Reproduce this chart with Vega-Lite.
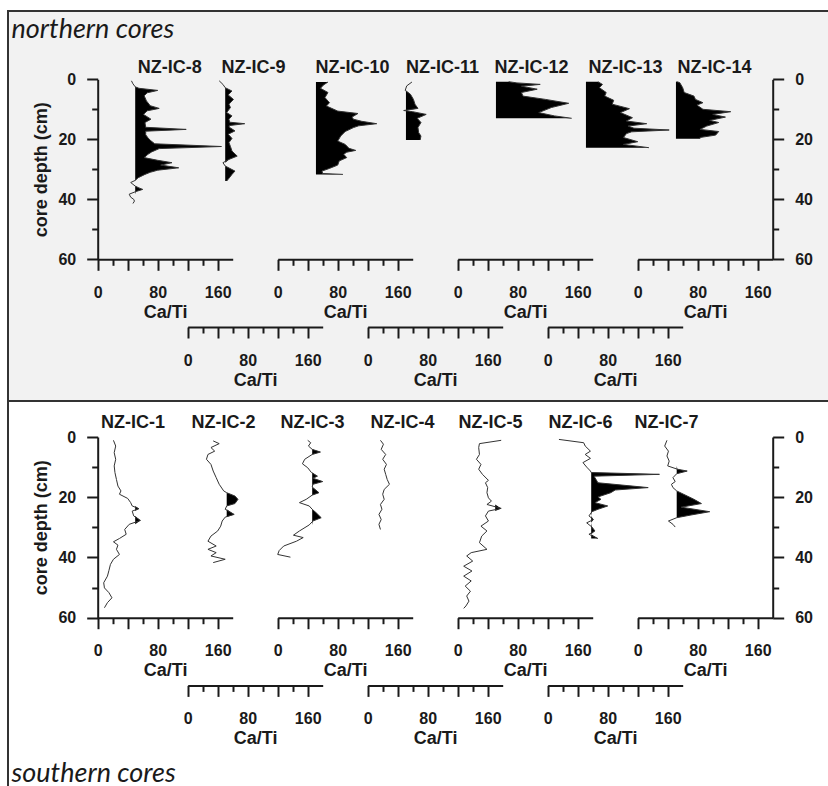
{
"$schema": "https://vega.github.io/schema/vega-lite/v6.json",
"padding": {"left": 7, "top": 10, "right": 0, "bottom": 0},
"background": "white",
"bounds": "flush",
"spacing": 0,
"config": {
  "view": {"stroke": null},
  "axis": {"grid": false, "domainColor": "#1a1a1a", "domainWidth": 2, "tickColor": "#1a1a1a", "tickWidth": 2, "labelFont": "Liberation Sans", "labelFontSize": 16, "labelFontWeight": "bold", "labelColor": "#1a1a1a", "titleFont": "Liberation Sans", "titleFontSize": 18, "titleFontWeight": "bold", "titleColor": "#1a1a1a", "labelOverlap": false, "labelFlush": false, "zindex": 1}
},
"data": {"values": [
{"core":"NZ-IC-8","depth":0.5,"cati":45,"fill":50},{"core":"NZ-IC-8","depth":1.5,"cati":47,"fill":50},{"core":"NZ-IC-8","depth":2.5,"cati":50,"fill":50},{"core":"NZ-IC-8","depth":3.0,"cati":55,"fill":55},{"core":"NZ-IC-8","depth":3.7,"cati":80,"fill":80},{"core":"NZ-IC-8","depth":4.5,"cati":66,"fill":66},{"core":"NZ-IC-8","depth":5.5,"cati":62,"fill":62},{"core":"NZ-IC-8","depth":7.2,"cati":65,"fill":65},{"core":"NZ-IC-8","depth":8.8,"cati":70,"fill":70},{"core":"NZ-IC-8","depth":9.7,"cati":82,"fill":82},{"core":"NZ-IC-8","depth":10.5,"cati":66,"fill":66},{"core":"NZ-IC-8","depth":11.7,"cati":61,"fill":61},{"core":"NZ-IC-8","depth":13.3,"cati":71,"fill":71},{"core":"NZ-IC-8","depth":14.4,"cati":63,"fill":63},{"core":"NZ-IC-8","depth":16.0,"cati":64,"fill":64},{"core":"NZ-IC-8","depth":16.7,"cati":118,"fill":118},{"core":"NZ-IC-8","depth":17.3,"cati":64,"fill":64},{"core":"NZ-IC-8","depth":18.5,"cati":64,"fill":64},{"core":"NZ-IC-8","depth":19.5,"cati":67,"fill":67},{"core":"NZ-IC-8","depth":20.3,"cati":70,"fill":70},{"core":"NZ-IC-8","depth":21.5,"cati":76,"fill":76},{"core":"NZ-IC-8","depth":22.4,"cati":165,"fill":165},{"core":"NZ-IC-8","depth":23.1,"cati":82,"fill":82},{"core":"NZ-IC-8","depth":24.2,"cati":72,"fill":72},{"core":"NZ-IC-8","depth":25.0,"cati":67,"fill":67},{"core":"NZ-IC-8","depth":26.1,"cati":62,"fill":62},{"core":"NZ-IC-8","depth":27.0,"cati":80,"fill":80},{"core":"NZ-IC-8","depth":27.8,"cati":99,"fill":99},{"core":"NZ-IC-8","depth":28.6,"cati":84,"fill":84},{"core":"NZ-IC-8","depth":29.5,"cati":108,"fill":108},{"core":"NZ-IC-8","depth":30.3,"cati":80,"fill":80},{"core":"NZ-IC-8","depth":31.0,"cati":70,"fill":70},{"core":"NZ-IC-8","depth":31.7,"cati":63,"fill":63},{"core":"NZ-IC-8","depth":32.8,"cati":54,"fill":54},{"core":"NZ-IC-8","depth":33.7,"cati":50,"fill":50},{"core":"NZ-IC-8","depth":34.4,"cati":44,"fill":50},{"core":"NZ-IC-8","depth":35.6,"cati":50,"fill":50},{"core":"NZ-IC-8","depth":36.2,"cati":55,"fill":55},{"core":"NZ-IC-8","depth":36.7,"cati":60,"fill":60},{"core":"NZ-IC-8","depth":37.4,"cati":51,"fill":51},{"core":"NZ-IC-8","depth":38.3,"cati":42,"fill":50},{"core":"NZ-IC-8","depth":39.3,"cati":44,"fill":50},{"core":"NZ-IC-8","depth":40.0,"cati":48,"fill":50},{"core":"NZ-IC-8","depth":40.6,"cati":49,"fill":50},{"core":"NZ-IC-8","depth":41.4,"cati":47,"fill":50},
{"core":"NZ-IC-9","depth":0.5,"cati":42,"fill":50},{"core":"NZ-IC-9","depth":1.7,"cati":47,"fill":50},{"core":"NZ-IC-9","depth":2.8,"cati":50,"fill":50},{"core":"NZ-IC-9","depth":3.9,"cati":59,"fill":59},{"core":"NZ-IC-9","depth":5.2,"cati":54,"fill":54},{"core":"NZ-IC-9","depth":6.7,"cati":61,"fill":61},{"core":"NZ-IC-9","depth":8.3,"cati":55,"fill":55},{"core":"NZ-IC-9","depth":9.4,"cati":57,"fill":57},{"core":"NZ-IC-9","depth":11.1,"cati":52,"fill":52},{"core":"NZ-IC-9","depth":12.2,"cati":59,"fill":59},{"core":"NZ-IC-9","depth":13.3,"cati":55,"fill":55},{"core":"NZ-IC-9","depth":14.3,"cati":56,"fill":56},{"core":"NZ-IC-9","depth":14.8,"cati":76,"fill":76},{"core":"NZ-IC-9","depth":15.4,"cati":56,"fill":56},{"core":"NZ-IC-9","depth":15.9,"cati":55,"fill":55},{"core":"NZ-IC-9","depth":17.2,"cati":63,"fill":63},{"core":"NZ-IC-9","depth":18.3,"cati":54,"fill":54},{"core":"NZ-IC-9","depth":19.7,"cati":59,"fill":59},{"core":"NZ-IC-9","depth":21.1,"cati":55,"fill":55},{"core":"NZ-IC-9","depth":22.4,"cati":57,"fill":57},{"core":"NZ-IC-9","depth":23.9,"cati":59,"fill":59},{"core":"NZ-IC-9","depth":25.6,"cati":66,"fill":66},{"core":"NZ-IC-9","depth":26.7,"cati":55,"fill":55},{"core":"NZ-IC-9","depth":27.8,"cati":47,"fill":50},{"core":"NZ-IC-9","depth":28.9,"cati":50,"fill":50},{"core":"NZ-IC-9","depth":30.6,"cati":63,"fill":63},{"core":"NZ-IC-9","depth":31.7,"cati":59,"fill":59},{"core":"NZ-IC-9","depth":33.0,"cati":55,"fill":55},{"core":"NZ-IC-9","depth":33.9,"cati":52,"fill":52},
{"core":"NZ-IC-10","depth":0.9,"cati":67,"fill":67},{"core":"NZ-IC-10","depth":1.9,"cati":61,"fill":61},{"core":"NZ-IC-10","depth":3.0,"cati":57,"fill":57},{"core":"NZ-IC-10","depth":4.4,"cati":67,"fill":67},{"core":"NZ-IC-10","depth":6.1,"cati":63,"fill":63},{"core":"NZ-IC-10","depth":7.8,"cati":69,"fill":69},{"core":"NZ-IC-10","depth":8.9,"cati":65,"fill":65},{"core":"NZ-IC-10","depth":10.6,"cati":80,"fill":80},{"core":"NZ-IC-10","depth":11.4,"cati":107,"fill":107},{"core":"NZ-IC-10","depth":12.6,"cati":99,"fill":99},{"core":"NZ-IC-10","depth":13.3,"cati":101,"fill":101},{"core":"NZ-IC-10","depth":14.0,"cati":112,"fill":112},{"core":"NZ-IC-10","depth":14.8,"cati":132,"fill":132},{"core":"NZ-IC-10","depth":15.5,"cati":108,"fill":108},{"core":"NZ-IC-10","depth":16.1,"cati":101,"fill":101},{"core":"NZ-IC-10","depth":17.4,"cati":90,"fill":90},{"core":"NZ-IC-10","depth":18.9,"cati":84,"fill":84},{"core":"NZ-IC-10","depth":20.6,"cati":80,"fill":80},{"core":"NZ-IC-10","depth":21.7,"cati":90,"fill":90},{"core":"NZ-IC-10","depth":23.0,"cati":95,"fill":95},{"core":"NZ-IC-10","depth":23.7,"cati":104,"fill":104},{"core":"NZ-IC-10","depth":24.3,"cati":92,"fill":92},{"core":"NZ-IC-10","depth":25.0,"cati":88,"fill":88},{"core":"NZ-IC-10","depth":26.1,"cati":92,"fill":92},{"core":"NZ-IC-10","depth":27.2,"cati":82,"fill":82},{"core":"NZ-IC-10","depth":28.6,"cati":80,"fill":80},{"core":"NZ-IC-10","depth":29.7,"cati":69,"fill":69},{"core":"NZ-IC-10","depth":30.6,"cati":59,"fill":59},{"core":"NZ-IC-10","depth":31.4,"cati":60,"fill":60},{"core":"NZ-IC-10","depth":31.7,"cati":87,"fill":87},
{"core":"NZ-IC-11","depth":0.9,"cati":59,"fill":51},{"core":"NZ-IC-11","depth":2.2,"cati":52,"fill":51},{"core":"NZ-IC-11","depth":3.7,"cati":50,"fill":51},{"core":"NZ-IC-11","depth":5.0,"cati":57,"fill":57},{"core":"NZ-IC-11","depth":6.7,"cati":61,"fill":61},{"core":"NZ-IC-11","depth":8.3,"cati":63,"fill":63},{"core":"NZ-IC-11","depth":9.7,"cati":67,"fill":67},{"core":"NZ-IC-11","depth":10.4,"cati":48,"fill":51},{"core":"NZ-IC-11","depth":10.8,"cati":60,"fill":60},{"core":"NZ-IC-11","depth":11.7,"cati":78,"fill":78},{"core":"NZ-IC-11","depth":13.0,"cati":66,"fill":66},{"core":"NZ-IC-11","depth":14.4,"cati":71,"fill":71},{"core":"NZ-IC-11","depth":16.1,"cati":67,"fill":67},{"core":"NZ-IC-11","depth":17.8,"cati":68,"fill":68},{"core":"NZ-IC-11","depth":18.9,"cati":71,"fill":71},{"core":"NZ-IC-11","depth":20.2,"cati":70,"fill":70},
{"core":"NZ-IC-12","depth":0.8,"cati":68,"fill":68},{"core":"NZ-IC-12","depth":1.2,"cati":79,"fill":79},{"core":"NZ-IC-12","depth":1.7,"cati":110,"fill":110},{"core":"NZ-IC-12","depth":2.3,"cati":85,"fill":85},{"core":"NZ-IC-12","depth":3.3,"cati":106,"fill":106},{"core":"NZ-IC-12","depth":4.4,"cati":85,"fill":85},{"core":"NZ-IC-12","depth":5.6,"cati":87,"fill":87},{"core":"NZ-IC-12","depth":6.7,"cati":117,"fill":117},{"core":"NZ-IC-12","depth":8.0,"cati":148,"fill":148},{"core":"NZ-IC-12","depth":9.4,"cati":125,"fill":125},{"core":"NZ-IC-12","depth":11.1,"cati":108,"fill":108},{"core":"NZ-IC-12","depth":12.2,"cati":129,"fill":129},{"core":"NZ-IC-12","depth":13.0,"cati":152,"fill":152},
{"core":"NZ-IC-13","depth":0.8,"cati":67,"fill":67},{"core":"NZ-IC-13","depth":1.7,"cati":73,"fill":73},{"core":"NZ-IC-13","depth":2.8,"cati":69,"fill":69},{"core":"NZ-IC-13","depth":4.4,"cati":78,"fill":78},{"core":"NZ-IC-13","depth":5.6,"cati":76,"fill":76},{"core":"NZ-IC-13","depth":7.0,"cati":88,"fill":88},{"core":"NZ-IC-13","depth":8.3,"cati":86,"fill":86},{"core":"NZ-IC-13","depth":9.8,"cati":109,"fill":109},{"core":"NZ-IC-13","depth":11.1,"cati":97,"fill":97},{"core":"NZ-IC-13","depth":12.8,"cati":113,"fill":113},{"core":"NZ-IC-13","depth":13.9,"cati":105,"fill":105},{"core":"NZ-IC-13","depth":14.8,"cati":132,"fill":132},{"core":"NZ-IC-13","depth":15.6,"cati":107,"fill":107},{"core":"NZ-IC-13","depth":16.3,"cati":115,"fill":115},{"core":"NZ-IC-13","depth":16.9,"cati":162,"fill":162},{"core":"NZ-IC-13","depth":17.5,"cati":112,"fill":112},{"core":"NZ-IC-13","depth":18.1,"cati":105,"fill":105},{"core":"NZ-IC-13","depth":19.4,"cati":101,"fill":101},{"core":"NZ-IC-13","depth":20.8,"cati":120,"fill":120},{"core":"NZ-IC-13","depth":21.7,"cati":101,"fill":101},{"core":"NZ-IC-13","depth":22.8,"cati":135,"fill":135},
{"core":"NZ-IC-14","depth":0.8,"cati":52,"fill":52},{"core":"NZ-IC-14","depth":1.1,"cati":56,"fill":56},{"core":"NZ-IC-14","depth":2.8,"cati":60,"fill":60},{"core":"NZ-IC-14","depth":4.4,"cati":62,"fill":62},{"core":"NZ-IC-14","depth":5.6,"cati":75,"fill":75},{"core":"NZ-IC-14","depth":6.7,"cati":77,"fill":77},{"core":"NZ-IC-14","depth":7.8,"cati":87,"fill":87},{"core":"NZ-IC-14","depth":8.6,"cati":79,"fill":79},{"core":"NZ-IC-14","depth":10.0,"cati":87,"fill":87},{"core":"NZ-IC-14","depth":10.8,"cati":124,"fill":124},{"core":"NZ-IC-14","depth":11.7,"cati":100,"fill":100},{"core":"NZ-IC-14","depth":12.6,"cati":117,"fill":117},{"core":"NZ-IC-14","depth":13.7,"cati":96,"fill":96},{"core":"NZ-IC-14","depth":14.4,"cati":108,"fill":108},{"core":"NZ-IC-14","depth":15.6,"cati":92,"fill":92},{"core":"NZ-IC-14","depth":16.7,"cati":83,"fill":83},{"core":"NZ-IC-14","depth":17.4,"cati":108,"fill":108},{"core":"NZ-IC-14","depth":18.6,"cati":104,"fill":104},{"core":"NZ-IC-14","depth":19.4,"cati":83,"fill":83},{"core":"NZ-IC-14","depth":19.8,"cati":83,"fill":83},
{"core":"NZ-IC-1","depth":1.1,"cati":21,"fill":50},{"core":"NZ-IC-1","depth":3.0,"cati":24,"fill":50},{"core":"NZ-IC-1","depth":5.2,"cati":22,"fill":50},{"core":"NZ-IC-1","depth":7.4,"cati":24,"fill":50},{"core":"NZ-IC-1","depth":9.6,"cati":22,"fill":50},{"core":"NZ-IC-1","depth":11.8,"cati":23,"fill":50},{"core":"NZ-IC-1","depth":14.1,"cati":25,"fill":50},{"core":"NZ-IC-1","depth":16.3,"cati":27,"fill":50},{"core":"NZ-IC-1","depth":17.9,"cati":31,"fill":50},{"core":"NZ-IC-1","depth":19.0,"cati":29,"fill":50},{"core":"NZ-IC-1","depth":20.4,"cati":40,"fill":50},{"core":"NZ-IC-1","depth":21.8,"cati":44,"fill":50},{"core":"NZ-IC-1","depth":22.9,"cati":46,"fill":50},{"core":"NZ-IC-1","depth":23.8,"cati":55,"fill":55},{"core":"NZ-IC-1","depth":24.6,"cati":46,"fill":50},{"core":"NZ-IC-1","depth":26.2,"cati":48,"fill":50},{"core":"NZ-IC-1","depth":27.7,"cati":57,"fill":57},{"core":"NZ-IC-1","depth":29.0,"cati":42,"fill":50},{"core":"NZ-IC-1","depth":30.7,"cati":36,"fill":50},{"core":"NZ-IC-1","depth":32.3,"cati":38,"fill":50},{"core":"NZ-IC-1","depth":33.7,"cati":29,"fill":50},{"core":"NZ-IC-1","depth":34.8,"cati":21,"fill":50},{"core":"NZ-IC-1","depth":35.9,"cati":27,"fill":50},{"core":"NZ-IC-1","depth":37.3,"cati":25,"fill":50},{"core":"NZ-IC-1","depth":39.0,"cati":29,"fill":50},{"core":"NZ-IC-1","depth":40.6,"cati":21,"fill":50},{"core":"NZ-IC-1","depth":42.3,"cati":17,"fill":50},{"core":"NZ-IC-1","depth":44.3,"cati":15,"fill":50},{"core":"NZ-IC-1","depth":46.2,"cati":13,"fill":50},{"core":"NZ-IC-1","depth":48.4,"cati":8,"fill":50},{"core":"NZ-IC-1","depth":50.1,"cati":9,"fill":50},{"core":"NZ-IC-1","depth":51.7,"cati":15,"fill":50},{"core":"NZ-IC-1","depth":53.4,"cati":19,"fill":50},{"core":"NZ-IC-1","depth":55.0,"cati":13,"fill":50},{"core":"NZ-IC-1","depth":56.7,"cati":9,"fill":50},
{"core":"NZ-IC-2","depth":1.3,"cati":34,"fill":52},{"core":"NZ-IC-2","depth":2.2,"cati":42,"fill":52},{"core":"NZ-IC-2","depth":3.5,"cati":31,"fill":52},{"core":"NZ-IC-2","depth":4.7,"cati":36,"fill":52},{"core":"NZ-IC-2","depth":5.8,"cati":27,"fill":52},{"core":"NZ-IC-2","depth":7.4,"cati":25,"fill":52},{"core":"NZ-IC-2","depth":9.1,"cati":31,"fill":52},{"core":"NZ-IC-2","depth":11.3,"cati":34,"fill":52},{"core":"NZ-IC-2","depth":13.5,"cati":38,"fill":52},{"core":"NZ-IC-2","depth":15.7,"cati":42,"fill":52},{"core":"NZ-IC-2","depth":17.9,"cati":48,"fill":52},{"core":"NZ-IC-2","depth":18.5,"cati":52,"fill":52},{"core":"NZ-IC-2","depth":19.6,"cati":63,"fill":63},{"core":"NZ-IC-2","depth":20.7,"cati":67,"fill":67},{"core":"NZ-IC-2","depth":22.1,"cati":63,"fill":63},{"core":"NZ-IC-2","depth":22.9,"cati":52,"fill":52},{"core":"NZ-IC-2","depth":24.0,"cati":50,"fill":52},{"core":"NZ-IC-2","depth":25.7,"cati":62,"fill":62},{"core":"NZ-IC-2","depth":26.6,"cati":50,"fill":52},{"core":"NZ-IC-2","depth":27.9,"cati":46,"fill":52},{"core":"NZ-IC-2","depth":29.6,"cati":44,"fill":52},{"core":"NZ-IC-2","depth":31.2,"cati":40,"fill":52},{"core":"NZ-IC-2","depth":32.9,"cati":31,"fill":52},{"core":"NZ-IC-2","depth":34.6,"cati":27,"fill":52},{"core":"NZ-IC-2","depth":36.2,"cati":38,"fill":52},{"core":"NZ-IC-2","depth":37.3,"cati":27,"fill":52},{"core":"NZ-IC-2","depth":38.4,"cati":38,"fill":52},{"core":"NZ-IC-2","depth":39.5,"cati":31,"fill":52},{"core":"NZ-IC-2","depth":40.6,"cati":50,"fill":52},{"core":"NZ-IC-2","depth":41.7,"cati":34,"fill":52},
{"core":"NZ-IC-3","depth":1.1,"cati":40,"fill":46},{"core":"NZ-IC-3","depth":1.9,"cati":44,"fill":46},{"core":"NZ-IC-3","depth":3.0,"cati":41,"fill":46},{"core":"NZ-IC-3","depth":4.1,"cati":46,"fill":46},{"core":"NZ-IC-3","depth":5.0,"cati":57,"fill":57},{"core":"NZ-IC-3","depth":5.8,"cati":46,"fill":46},{"core":"NZ-IC-3","depth":7.4,"cati":36,"fill":46},{"core":"NZ-IC-3","depth":8.9,"cati":33,"fill":46},{"core":"NZ-IC-3","depth":10.2,"cati":40,"fill":46},{"core":"NZ-IC-3","depth":11.8,"cati":45,"fill":46},{"core":"NZ-IC-3","depth":13.0,"cati":53,"fill":53},{"core":"NZ-IC-3","depth":13.7,"cati":47,"fill":47},{"core":"NZ-IC-3","depth":14.8,"cati":60,"fill":60},{"core":"NZ-IC-3","depth":15.7,"cati":47,"fill":47},{"core":"NZ-IC-3","depth":16.6,"cati":46,"fill":46},{"core":"NZ-IC-3","depth":18.5,"cati":55,"fill":55},{"core":"NZ-IC-3","depth":19.3,"cati":46,"fill":46},{"core":"NZ-IC-3","depth":20.7,"cati":38,"fill":46},{"core":"NZ-IC-3","depth":21.8,"cati":29,"fill":46},{"core":"NZ-IC-3","depth":22.9,"cati":42,"fill":46},{"core":"NZ-IC-3","depth":24.0,"cati":46,"fill":46},{"core":"NZ-IC-3","depth":25.1,"cati":51,"fill":51},{"core":"NZ-IC-3","depth":26.8,"cati":58,"fill":58},{"core":"NZ-IC-3","depth":27.9,"cati":47,"fill":47},{"core":"NZ-IC-3","depth":29.2,"cati":42,"fill":46},{"core":"NZ-IC-3","depth":31.2,"cati":29,"fill":46},{"core":"NZ-IC-3","depth":32.6,"cati":21,"fill":46},{"core":"NZ-IC-3","depth":33.4,"cati":34,"fill":46},{"core":"NZ-IC-3","depth":34.6,"cati":25,"fill":46},{"core":"NZ-IC-3","depth":36.2,"cati":8,"fill":46},{"core":"NZ-IC-3","depth":37.7,"cati":2,"fill":46},{"core":"NZ-IC-3","depth":39.0,"cati":0,"fill":46},{"core":"NZ-IC-3","depth":39.9,"cati":17,"fill":46},
{"core":"NZ-IC-4","depth":1.1,"cati":17,"fill":30},{"core":"NZ-IC-4","depth":2.4,"cati":21,"fill":30},{"core":"NZ-IC-4","depth":4.1,"cati":18,"fill":30},{"core":"NZ-IC-4","depth":5.8,"cati":24,"fill":30},{"core":"NZ-IC-4","depth":7.4,"cati":20,"fill":30},{"core":"NZ-IC-4","depth":9.1,"cati":25,"fill":30},{"core":"NZ-IC-4","depth":10.7,"cati":22,"fill":30},{"core":"NZ-IC-4","depth":12.4,"cati":24,"fill":30},{"core":"NZ-IC-4","depth":14.1,"cati":26,"fill":30},{"core":"NZ-IC-4","depth":15.7,"cati":29,"fill":30},{"core":"NZ-IC-4","depth":17.4,"cati":22,"fill":30},{"core":"NZ-IC-4","depth":19.0,"cati":20,"fill":30},{"core":"NZ-IC-4","depth":20.7,"cati":22,"fill":30},{"core":"NZ-IC-4","depth":22.4,"cati":17,"fill":30},{"core":"NZ-IC-4","depth":24.0,"cati":19,"fill":30},{"core":"NZ-IC-4","depth":25.7,"cati":15,"fill":30},{"core":"NZ-IC-4","depth":27.4,"cati":18,"fill":30},{"core":"NZ-IC-4","depth":29.0,"cati":15,"fill":30},{"core":"NZ-IC-4","depth":30.7,"cati":17,"fill":30},
{"core":"NZ-IC-5","depth":1.1,"cati":58,"fill":50},{"core":"NZ-IC-5","depth":2.2,"cati":29,"fill":50},{"core":"NZ-IC-5","depth":3.5,"cati":28,"fill":50},{"core":"NZ-IC-5","depth":5.8,"cati":29,"fill":50},{"core":"NZ-IC-5","depth":7.4,"cati":25,"fill":50},{"core":"NZ-IC-5","depth":9.1,"cati":31,"fill":50},{"core":"NZ-IC-5","depth":10.7,"cati":28,"fill":50},{"core":"NZ-IC-5","depth":12.4,"cati":33,"fill":50},{"core":"NZ-IC-5","depth":14.4,"cati":41,"fill":50},{"core":"NZ-IC-5","depth":15.2,"cati":37,"fill":50},{"core":"NZ-IC-5","depth":16.8,"cati":40,"fill":50},{"core":"NZ-IC-5","depth":18.5,"cati":39,"fill":50},{"core":"NZ-IC-5","depth":20.2,"cati":41,"fill":50},{"core":"NZ-IC-5","depth":21.3,"cati":45,"fill":50},{"core":"NZ-IC-5","depth":22.4,"cati":39,"fill":50},{"core":"NZ-IC-5","depth":23.7,"cati":58,"fill":58},{"core":"NZ-IC-5","depth":24.6,"cati":41,"fill":50},{"core":"NZ-IC-5","depth":26.2,"cati":37,"fill":50},{"core":"NZ-IC-5","depth":27.9,"cati":41,"fill":50},{"core":"NZ-IC-5","depth":29.6,"cati":31,"fill":50},{"core":"NZ-IC-5","depth":31.2,"cati":39,"fill":50},{"core":"NZ-IC-5","depth":32.9,"cati":32,"fill":50},{"core":"NZ-IC-5","depth":35.1,"cati":29,"fill":50},{"core":"NZ-IC-5","depth":37.3,"cati":39,"fill":50},{"core":"NZ-IC-5","depth":38.4,"cati":18,"fill":50},{"core":"NZ-IC-5","depth":39.5,"cati":12,"fill":50},{"core":"NZ-IC-5","depth":41.2,"cati":20,"fill":50},{"core":"NZ-IC-5","depth":42.9,"cati":8,"fill":50},{"core":"NZ-IC-5","depth":44.5,"cati":19,"fill":50},{"core":"NZ-IC-5","depth":46.2,"cati":8,"fill":50},{"core":"NZ-IC-5","depth":47.8,"cati":18,"fill":50},{"core":"NZ-IC-5","depth":49.5,"cati":10,"fill":50},{"core":"NZ-IC-5","depth":51.2,"cati":17,"fill":50},{"core":"NZ-IC-5","depth":52.8,"cati":12,"fill":50},{"core":"NZ-IC-5","depth":54.5,"cati":15,"fill":50},{"core":"NZ-IC-5","depth":56.1,"cati":11,"fill":50},{"core":"NZ-IC-5","depth":56.9,"cati":8,"fill":50},
{"core":"NZ-IC-6","depth":0.8,"cati":15,"fill":58},{"core":"NZ-IC-6","depth":1.9,"cati":48,"fill":58},{"core":"NZ-IC-6","depth":3.0,"cati":50,"fill":58},{"core":"NZ-IC-6","depth":4.7,"cati":57,"fill":58},{"core":"NZ-IC-6","depth":5.8,"cati":50,"fill":58},{"core":"NZ-IC-6","depth":7.1,"cati":57,"fill":58},{"core":"NZ-IC-6","depth":8.5,"cati":47,"fill":58},{"core":"NZ-IC-6","depth":10.0,"cati":52,"fill":58},{"core":"NZ-IC-6","depth":11.3,"cati":57,"fill":58},{"core":"NZ-IC-6","depth":11.8,"cati":58,"fill":58},{"core":"NZ-IC-6","depth":12.4,"cati":149,"fill":149},{"core":"NZ-IC-6","depth":13.0,"cati":62,"fill":62},{"core":"NZ-IC-6","depth":13.5,"cati":63,"fill":63},{"core":"NZ-IC-6","depth":15.2,"cati":67,"fill":67},{"core":"NZ-IC-6","depth":16.8,"cati":134,"fill":134},{"core":"NZ-IC-6","depth":17.6,"cati":90,"fill":90},{"core":"NZ-IC-6","depth":18.5,"cati":84,"fill":84},{"core":"NZ-IC-6","depth":19.9,"cati":67,"fill":67},{"core":"NZ-IC-6","depth":20.7,"cati":71,"fill":71},{"core":"NZ-IC-6","depth":21.8,"cati":63,"fill":63},{"core":"NZ-IC-6","depth":22.9,"cati":80,"fill":80},{"core":"NZ-IC-6","depth":24.0,"cati":67,"fill":67},{"core":"NZ-IC-6","depth":24.8,"cati":59,"fill":59},{"core":"NZ-IC-6","depth":26.2,"cati":55,"fill":58},{"core":"NZ-IC-6","depth":27.4,"cati":61,"fill":61},{"core":"NZ-IC-6","depth":28.5,"cati":52,"fill":58},{"core":"NZ-IC-6","depth":29.9,"cati":59,"fill":59},{"core":"NZ-IC-6","depth":31.2,"cati":63,"fill":63},{"core":"NZ-IC-6","depth":32.3,"cati":55,"fill":58},{"core":"NZ-IC-6","depth":33.7,"cati":67,"fill":67},
{"core":"NZ-IC-7","depth":1.1,"cati":39,"fill":52},{"core":"NZ-IC-7","depth":3.0,"cati":36,"fill":52},{"core":"NZ-IC-7","depth":4.7,"cati":41,"fill":52},{"core":"NZ-IC-7","depth":6.3,"cati":39,"fill":52},{"core":"NZ-IC-7","depth":8.0,"cati":42,"fill":52},{"core":"NZ-IC-7","depth":9.6,"cati":40,"fill":52},{"core":"NZ-IC-7","depth":10.7,"cati":53,"fill":53},{"core":"NZ-IC-7","depth":11.3,"cati":66,"fill":66},{"core":"NZ-IC-7","depth":12.2,"cati":52,"fill":52},{"core":"NZ-IC-7","depth":13.5,"cati":47,"fill":52},{"core":"NZ-IC-7","depth":14.8,"cati":50,"fill":52},{"core":"NZ-IC-7","depth":15.7,"cati":45,"fill":52},{"core":"NZ-IC-7","depth":16.8,"cati":47,"fill":52},{"core":"NZ-IC-7","depth":17.9,"cati":52,"fill":52},{"core":"NZ-IC-7","depth":19.6,"cati":66,"fill":66},{"core":"NZ-IC-7","depth":20.7,"cati":75,"fill":75},{"core":"NZ-IC-7","depth":22.1,"cati":85,"fill":85},{"core":"NZ-IC-7","depth":23.3,"cati":58,"fill":58},{"core":"NZ-IC-7","depth":24.8,"cati":96,"fill":96},{"core":"NZ-IC-7","depth":25.9,"cati":71,"fill":71},{"core":"NZ-IC-7","depth":26.8,"cati":52,"fill":52},{"core":"NZ-IC-7","depth":27.9,"cati":41,"fill":52},{"core":"NZ-IC-7","depth":29.0,"cati":47,"fill":52},{"core":"NZ-IC-7","depth":29.9,"cati":50,"fill":52}
]},
"vconcat": [
{
  "width": 821, "height": 390,
  "view": {"fill": "#f2f2f2", "stroke": "#333333", "strokeWidth": 2},
  "resolve": {"scale": {"x": "independent", "y": "independent"}, "axis": {"x": "independent", "y": "independent"}},
  "layer": [
    {"transform": [{"filter": "datum.core === 'NZ-IC-8'"}], "resolve": {"axis": {"x": "independent", "y": "independent"}}, "layer": [
      {"mark": {"type": "area", "orient": "horizontal", "color": "#000000"}, "encoding": {
        "x": {"field": "fill", "type": "quantitative", "scale": {"domain": [0, 170], "range": [89.7, 224.7]}, "axis": {"orient": "bottom", "offset": -141.7, "values": [0,20,40,60,80,100,120,140,160], "labelExpr": "datum.value % 80 === 0 ? datum.label : ''", "tickSize": {"condition": {"test": "datum.value % 40 === 0", "value": 11}, "value": 6}, "labelPadding": 14, "title": "Ca/Ti", "titlePadding": 3}},
        "x2": {"datum": 50},
        "y": {"field": "depth", "type": "quantitative", "scale": {"domain": [0, 60], "range": [68.3, 248.3]}, "axis": {"orient": "left", "offset": -89.7, "values": [0,10,20,30,40,50,60], "labelExpr": "datum.value % 20 === 0 ? datum.label : ''", "tickSize": {"condition": {"test": "datum.value % 20 === 0", "value": 11}, "value": 6}, "labelPadding": 11, "title": "core depth (cm)", "titlePadding": 7}}}},
      {"mark": {"type": "line", "orient": "horizontal", "color": "#333333", "strokeWidth": 1}, "encoding": {
        "x": {"field": "cati", "type": "quantitative", "axis": {"orient": "top", "labels": false, "ticks": false, "domain": false, "title": "NZ-IC-8", "titleX": 161.3, "titleY": 56, "titleAlign": "center", "titleBaseline": "middle", "titleAngle": 0}},
        "y": {"field": "depth", "type": "quantitative", "axis": null},
        "order": {"field": "depth", "type": "quantitative"}}}
    ]},
    {"transform": [{"filter": "datum.core === 'NZ-IC-9'"}], "resolve": {"axis": {"x": "independent", "y": "independent"}}, "layer": [
      {"mark": {"type": "area", "orient": "horizontal", "color": "#000000"}, "encoding": {
        "x": {"field": "fill", "type": "quantitative", "scale": {"domain": [0, 170], "range": [179.7, 314.7]}, "axis": {"orient": "bottom", "offset": -74, "values": [0,20,40,60,80,100,120,140,160], "labelExpr": "datum.value % 80 === 0 ? datum.label : ''", "tickSize": {"condition": {"test": "datum.value % 40 === 0", "value": 11}, "value": 6}, "labelPadding": 14, "title": "Ca/Ti", "titlePadding": 3}},
        "x2": {"datum": 50},
        "y": {"field": "depth", "type": "quantitative", "scale": {"domain": [0, 60], "range": [68.3, 248.3]}, "axis": {"orient": "left", "offset": 0, "domain": false, "ticks": false, "labels": false, "title": "northern cores", "titleX": 3, "titleY": 26, "titleAngle": 0, "titleAlign": "left", "titleBaseline": "alphabetic", "titleFont": "Lato", "titleFontStyle": "italic", "titleFontWeight": "normal", "titleFontSize": 27}}}},
      {"mark": {"type": "line", "orient": "horizontal", "color": "#333333", "strokeWidth": 1}, "encoding": {
        "x": {"field": "cati", "type": "quantitative", "axis": {"orient": "top", "labels": false, "ticks": false, "domain": false, "title": "NZ-IC-9", "titleX": 245, "titleY": 56, "titleAlign": "center", "titleBaseline": "middle", "titleAngle": 0}},
        "y": {"field": "depth", "type": "quantitative", "axis": null},
        "order": {"field": "depth", "type": "quantitative"}}}
    ]},
    {"transform": [{"filter": "datum.core === 'NZ-IC-10'"}], "resolve": {"axis": {"x": "independent", "y": "independent"}}, "layer": [
      {"mark": {"type": "area", "orient": "horizontal", "color": "#000000"}, "encoding": {
        "x": {"field": "fill", "type": "quantitative", "scale": {"domain": [0, 170], "range": [269.7, 404.7]}, "axis": {"orient": "bottom", "offset": -141.7, "values": [0,20,40,60,80,100,120,140,160], "labelExpr": "datum.value % 80 === 0 ? datum.label : ''", "tickSize": {"condition": {"test": "datum.value % 40 === 0", "value": 11}, "value": 6}, "labelPadding": 14, "title": "Ca/Ti", "titlePadding": 3}},
        "x2": {"datum": 51},
        "y": {"field": "depth", "type": "quantitative", "scale": {"domain": [0, 60], "range": [68.3, 248.3]}, "axis": null}}},
      {"mark": {"type": "line", "orient": "horizontal", "color": "#333333", "strokeWidth": 1}, "encoding": {
        "x": {"field": "cati", "type": "quantitative", "axis": {"orient": "top", "labels": false, "ticks": false, "domain": false, "title": "NZ-IC-10", "titleX": 344, "titleY": 56, "titleAlign": "center", "titleBaseline": "middle", "titleAngle": 0}},
        "y": {"field": "depth", "type": "quantitative", "axis": null},
        "order": {"field": "depth", "type": "quantitative"}}}
    ]},
    {"transform": [{"filter": "datum.core === 'NZ-IC-11'"}], "resolve": {"axis": {"x": "independent", "y": "independent"}}, "layer": [
      {"mark": {"type": "area", "orient": "horizontal", "color": "#000000"}, "encoding": {
        "x": {"field": "fill", "type": "quantitative", "scale": {"domain": [0, 170], "range": [359.7, 494.7]}, "axis": {"orient": "bottom", "offset": -74, "values": [0,20,40,60,80,100,120,140,160], "labelExpr": "datum.value % 80 === 0 ? datum.label : ''", "tickSize": {"condition": {"test": "datum.value % 40 === 0", "value": 11}, "value": 6}, "labelPadding": 14, "title": "Ca/Ti", "titlePadding": 3}},
        "x2": {"datum": 51},
        "y": {"field": "depth", "type": "quantitative", "scale": {"domain": [0, 60], "range": [68.3, 248.3]}, "axis": null}}},
      {"mark": {"type": "line", "orient": "horizontal", "color": "#333333", "strokeWidth": 1}, "encoding": {
        "x": {"field": "cati", "type": "quantitative", "axis": {"orient": "top", "labels": false, "ticks": false, "domain": false, "title": "NZ-IC-11", "titleX": 434, "titleY": 56, "titleAlign": "center", "titleBaseline": "middle", "titleAngle": 0}},
        "y": {"field": "depth", "type": "quantitative", "axis": null},
        "order": {"field": "depth", "type": "quantitative"}}}
    ]},
    {"transform": [{"filter": "datum.core === 'NZ-IC-12'"}], "resolve": {"axis": {"x": "independent", "y": "independent"}}, "layer": [
      {"mark": {"type": "area", "orient": "horizontal", "color": "#000000"}, "encoding": {
        "x": {"field": "fill", "type": "quantitative", "scale": {"domain": [0, 170], "range": [449.7, 584.7]}, "axis": {"orient": "bottom", "offset": -141.7, "values": [0,20,40,60,80,100,120,140,160], "labelExpr": "datum.value % 80 === 0 ? datum.label : ''", "tickSize": {"condition": {"test": "datum.value % 40 === 0", "value": 11}, "value": 6}, "labelPadding": 14, "title": "Ca/Ti", "titlePadding": 3}},
        "x2": {"datum": 51},
        "y": {"field": "depth", "type": "quantitative", "scale": {"domain": [0, 60], "range": [68.3, 248.3]}, "axis": null}}},
      {"mark": {"type": "line", "orient": "horizontal", "color": "#333333", "strokeWidth": 1}, "encoding": {
        "x": {"field": "cati", "type": "quantitative", "axis": {"orient": "top", "labels": false, "ticks": false, "domain": false, "title": "NZ-IC-12", "titleX": 523, "titleY": 56, "titleAlign": "center", "titleBaseline": "middle", "titleAngle": 0}},
        "y": {"field": "depth", "type": "quantitative", "axis": null},
        "order": {"field": "depth", "type": "quantitative"}}}
    ]},
    {"transform": [{"filter": "datum.core === 'NZ-IC-13'"}], "resolve": {"axis": {"x": "independent", "y": "independent"}}, "layer": [
      {"mark": {"type": "area", "orient": "horizontal", "color": "#000000"}, "encoding": {
        "x": {"field": "fill", "type": "quantitative", "scale": {"domain": [0, 170], "range": [539.7, 674.7]}, "axis": {"orient": "bottom", "offset": -74, "values": [0,20,40,60,80,100,120,140,160], "labelExpr": "datum.value % 80 === 0 ? datum.label : ''", "tickSize": {"condition": {"test": "datum.value % 40 === 0", "value": 11}, "value": 6}, "labelPadding": 14, "title": "Ca/Ti", "titlePadding": 3}},
        "x2": {"datum": 51},
        "y": {"field": "depth", "type": "quantitative", "scale": {"domain": [0, 60], "range": [68.3, 248.3]}, "axis": null}}},
      {"mark": {"type": "line", "orient": "horizontal", "color": "#333333", "strokeWidth": 1}, "encoding": {
        "x": {"field": "cati", "type": "quantitative", "axis": {"orient": "top", "labels": false, "ticks": false, "domain": false, "title": "NZ-IC-13", "titleX": 617, "titleY": 56, "titleAlign": "center", "titleBaseline": "middle", "titleAngle": 0}},
        "y": {"field": "depth", "type": "quantitative", "axis": null},
        "order": {"field": "depth", "type": "quantitative"}}}
    ]},
    {"transform": [{"filter": "datum.core === 'NZ-IC-14'"}], "resolve": {"axis": {"x": "independent", "y": "independent"}}, "layer": [
      {"mark": {"type": "area", "orient": "horizontal", "color": "#000000"}, "encoding": {
        "x": {"field": "fill", "type": "quantitative", "scale": {"domain": [0, 170], "range": [629.7, 764.7]}, "axis": {"orient": "bottom", "offset": -141.7, "values": [0,20,40,60,80,100,120,140,160], "labelExpr": "datum.value % 80 === 0 ? datum.label : ''", "tickSize": {"condition": {"test": "datum.value % 40 === 0", "value": 11}, "value": 6}, "labelPadding": 14, "title": "Ca/Ti", "titlePadding": 3}},
        "x2": {"datum": 51},
        "y": {"field": "depth", "type": "quantitative", "scale": {"domain": [0, 60], "range": [68.3, 248.3]}, "axis": {"orient": "right", "offset": -56.3, "values": [0,10,20,30,40,50,60], "labelExpr": "datum.value % 20 === 0 ? datum.label : ''", "tickSize": {"condition": {"test": "datum.value % 20 === 0", "value": 11}, "value": 6}, "labelPadding": 11, "title": null}}}},
      {"mark": {"type": "line", "orient": "horizontal", "color": "#333333", "strokeWidth": 1}, "encoding": {
        "x": {"field": "cati", "type": "quantitative", "axis": {"orient": "top", "labels": false, "ticks": false, "domain": false, "title": "NZ-IC-14", "titleX": 706, "titleY": 56, "titleAlign": "center", "titleBaseline": "middle", "titleAngle": 0}},
        "y": {"field": "depth", "type": "quantitative", "axis": null},
        "order": {"field": "depth", "type": "quantitative"}}}
    ]}
  ]
},
{
  "width": 821, "height": 392,
  "view": {"fill": "#ffffff", "stroke": "#333333", "strokeWidth": 2},
  "resolve": {"scale": {"x": "independent", "y": "independent"}, "axis": {"x": "independent", "y": "independent"}},
  "layer": [
    {"transform": [{"filter": "datum.core === 'NZ-IC-1'"}], "resolve": {"axis": {"x": "independent", "y": "independent"}}, "layer": [
      {"mark": {"type": "area", "orient": "horizontal", "color": "#000000"}, "encoding": {
        "x": {"field": "fill", "type": "quantitative", "scale": {"domain": [0, 170], "range": [89.7, 224.7]}, "axis": {"orient": "bottom", "offset": -175.3, "values": [0,20,40,60,80,100,120,140,160], "labelExpr": "datum.value % 80 === 0 ? datum.label : ''", "tickSize": {"condition": {"test": "datum.value % 40 === 0", "value": 11}, "value": 6}, "labelPadding": 14, "title": "Ca/Ti", "titlePadding": 3}},
        "x2": {"datum": 50},
        "y": {"field": "depth", "type": "quantitative", "scale": {"domain": [0, 60], "range": [36, 216.7]}, "axis": {"orient": "left", "offset": -89.7, "values": [0,10,20,30,40,50,60], "labelExpr": "datum.value % 20 === 0 ? datum.label : ''", "tickSize": {"condition": {"test": "datum.value % 20 === 0", "value": 11}, "value": 6}, "labelPadding": 11, "title": "core depth (cm)", "titlePadding": 7}}}},
      {"mark": {"type": "line", "orient": "horizontal", "color": "#333333", "strokeWidth": 1}, "encoding": {
        "x": {"field": "cati", "type": "quantitative", "axis": {"orient": "top", "labels": false, "ticks": false, "domain": false, "title": "NZ-IC-1", "titleX": 124.5, "titleY": 21, "titleAlign": "center", "titleBaseline": "middle", "titleAngle": 0}},
        "y": {"field": "depth", "type": "quantitative", "axis": null},
        "order": {"field": "depth", "type": "quantitative"}}}
    ]},
    {"transform": [{"filter": "datum.core === 'NZ-IC-2'"}], "resolve": {"axis": {"x": "independent", "y": "independent"}}, "layer": [
      {"mark": {"type": "area", "orient": "horizontal", "color": "#000000"}, "encoding": {
        "x": {"field": "fill", "type": "quantitative", "scale": {"domain": [0, 170], "range": [179.7, 314.7]}, "axis": {"orient": "bottom", "offset": -107.6, "values": [0,20,40,60,80,100,120,140,160], "labelExpr": "datum.value % 80 === 0 ? datum.label : ''", "tickSize": {"condition": {"test": "datum.value % 40 === 0", "value": 11}, "value": 6}, "labelPadding": 14, "title": "Ca/Ti", "titlePadding": 3}},
        "x2": {"datum": 52},
        "y": {"field": "depth", "type": "quantitative", "scale": {"domain": [0, 60], "range": [36, 216.7]}, "axis": {"orient": "left", "offset": 0, "domain": false, "ticks": false, "labels": false, "title": "southern cores", "titleX": 3, "titleY": 380, "titleAngle": 0, "titleAlign": "left", "titleBaseline": "alphabetic", "titleFont": "Lato", "titleFontStyle": "italic", "titleFontWeight": "normal", "titleFontSize": 27}}}},
      {"mark": {"type": "line", "orient": "horizontal", "color": "#333333", "strokeWidth": 1}, "encoding": {
        "x": {"field": "cati", "type": "quantitative", "axis": {"orient": "top", "labels": false, "ticks": false, "domain": false, "title": "NZ-IC-2", "titleX": 215, "titleY": 21, "titleAlign": "center", "titleBaseline": "middle", "titleAngle": 0}},
        "y": {"field": "depth", "type": "quantitative", "axis": null},
        "order": {"field": "depth", "type": "quantitative"}}}
    ]},
    {"transform": [{"filter": "datum.core === 'NZ-IC-3'"}], "resolve": {"axis": {"x": "independent", "y": "independent"}}, "layer": [
      {"mark": {"type": "area", "orient": "horizontal", "color": "#000000"}, "encoding": {
        "x": {"field": "fill", "type": "quantitative", "scale": {"domain": [0, 170], "range": [269.7, 404.7]}, "axis": {"orient": "bottom", "offset": -175.3, "values": [0,20,40,60,80,100,120,140,160], "labelExpr": "datum.value % 80 === 0 ? datum.label : ''", "tickSize": {"condition": {"test": "datum.value % 40 === 0", "value": 11}, "value": 6}, "labelPadding": 14, "title": "Ca/Ti", "titlePadding": 3}},
        "x2": {"datum": 46},
        "y": {"field": "depth", "type": "quantitative", "scale": {"domain": [0, 60], "range": [36, 216.7]}, "axis": null}}},
      {"mark": {"type": "line", "orient": "horizontal", "color": "#333333", "strokeWidth": 1}, "encoding": {
        "x": {"field": "cati", "type": "quantitative", "axis": {"orient": "top", "labels": false, "ticks": false, "domain": false, "title": "NZ-IC-3", "titleX": 304, "titleY": 21, "titleAlign": "center", "titleBaseline": "middle", "titleAngle": 0}},
        "y": {"field": "depth", "type": "quantitative", "axis": null},
        "order": {"field": "depth", "type": "quantitative"}}}
    ]},
    {"transform": [{"filter": "datum.core === 'NZ-IC-4'"}], "resolve": {"axis": {"x": "independent", "y": "independent"}}, "layer": [
      {"mark": {"type": "area", "orient": "horizontal", "color": "#000000"}, "encoding": {
        "x": {"field": "fill", "type": "quantitative", "scale": {"domain": [0, 170], "range": [359.7, 494.7]}, "axis": {"orient": "bottom", "offset": -107.6, "values": [0,20,40,60,80,100,120,140,160], "labelExpr": "datum.value % 80 === 0 ? datum.label : ''", "tickSize": {"condition": {"test": "datum.value % 40 === 0", "value": 11}, "value": 6}, "labelPadding": 14, "title": "Ca/Ti", "titlePadding": 3}},
        "x2": {"datum": 30},
        "y": {"field": "depth", "type": "quantitative", "scale": {"domain": [0, 60], "range": [36, 216.7]}, "axis": null}}},
      {"mark": {"type": "line", "orient": "horizontal", "color": "#333333", "strokeWidth": 1}, "encoding": {
        "x": {"field": "cati", "type": "quantitative", "axis": {"orient": "top", "labels": false, "ticks": false, "domain": false, "title": "NZ-IC-4", "titleX": 394, "titleY": 21, "titleAlign": "center", "titleBaseline": "middle", "titleAngle": 0}},
        "y": {"field": "depth", "type": "quantitative", "axis": null},
        "order": {"field": "depth", "type": "quantitative"}}}
    ]},
    {"transform": [{"filter": "datum.core === 'NZ-IC-5'"}], "resolve": {"axis": {"x": "independent", "y": "independent"}}, "layer": [
      {"mark": {"type": "area", "orient": "horizontal", "color": "#000000"}, "encoding": {
        "x": {"field": "fill", "type": "quantitative", "scale": {"domain": [0, 170], "range": [449.7, 584.7]}, "axis": {"orient": "bottom", "offset": -175.3, "values": [0,20,40,60,80,100,120,140,160], "labelExpr": "datum.value % 80 === 0 ? datum.label : ''", "tickSize": {"condition": {"test": "datum.value % 40 === 0", "value": 11}, "value": 6}, "labelPadding": 14, "title": "Ca/Ti", "titlePadding": 3}},
        "x2": {"datum": 50},
        "y": {"field": "depth", "type": "quantitative", "scale": {"domain": [0, 60], "range": [36, 216.7]}, "axis": null}}},
      {"mark": {"type": "line", "orient": "horizontal", "color": "#333333", "strokeWidth": 1}, "encoding": {
        "x": {"field": "cati", "type": "quantitative", "axis": {"orient": "top", "labels": false, "ticks": false, "domain": false, "title": "NZ-IC-5", "titleX": 482, "titleY": 21, "titleAlign": "center", "titleBaseline": "middle", "titleAngle": 0}},
        "y": {"field": "depth", "type": "quantitative", "axis": null},
        "order": {"field": "depth", "type": "quantitative"}}}
    ]},
    {"transform": [{"filter": "datum.core === 'NZ-IC-6'"}], "resolve": {"axis": {"x": "independent", "y": "independent"}}, "layer": [
      {"mark": {"type": "area", "orient": "horizontal", "color": "#000000"}, "encoding": {
        "x": {"field": "fill", "type": "quantitative", "scale": {"domain": [0, 170], "range": [539.7, 674.7]}, "axis": {"orient": "bottom", "offset": -107.6, "values": [0,20,40,60,80,100,120,140,160], "labelExpr": "datum.value % 80 === 0 ? datum.label : ''", "tickSize": {"condition": {"test": "datum.value % 40 === 0", "value": 11}, "value": 6}, "labelPadding": 14, "title": "Ca/Ti", "titlePadding": 3}},
        "x2": {"datum": 58},
        "y": {"field": "depth", "type": "quantitative", "scale": {"domain": [0, 60], "range": [36, 216.7]}, "axis": null}}},
      {"mark": {"type": "line", "orient": "horizontal", "color": "#333333", "strokeWidth": 1}, "encoding": {
        "x": {"field": "cati", "type": "quantitative", "axis": {"orient": "top", "labels": false, "ticks": false, "domain": false, "title": "NZ-IC-6", "titleX": 572, "titleY": 21, "titleAlign": "center", "titleBaseline": "middle", "titleAngle": 0}},
        "y": {"field": "depth", "type": "quantitative", "axis": null},
        "order": {"field": "depth", "type": "quantitative"}}}
    ]},
    {"transform": [{"filter": "datum.core === 'NZ-IC-7'"}], "resolve": {"axis": {"x": "independent", "y": "independent"}}, "layer": [
      {"mark": {"type": "area", "orient": "horizontal", "color": "#000000"}, "encoding": {
        "x": {"field": "fill", "type": "quantitative", "scale": {"domain": [0, 170], "range": [629.7, 764.7]}, "axis": {"orient": "bottom", "offset": -175.3, "values": [0,20,40,60,80,100,120,140,160], "labelExpr": "datum.value % 80 === 0 ? datum.label : ''", "tickSize": {"condition": {"test": "datum.value % 40 === 0", "value": 11}, "value": 6}, "labelPadding": 14, "title": "Ca/Ti", "titlePadding": 3}},
        "x2": {"datum": 52},
        "y": {"field": "depth", "type": "quantitative", "scale": {"domain": [0, 60], "range": [36, 216.7]}, "axis": {"orient": "right", "offset": -56.3, "values": [0,10,20,30,40,50,60], "labelExpr": "datum.value % 20 === 0 ? datum.label : ''", "tickSize": {"condition": {"test": "datum.value % 20 === 0", "value": 11}, "value": 6}, "labelPadding": 11, "title": null}}}},
      {"mark": {"type": "line", "orient": "horizontal", "color": "#333333", "strokeWidth": 1}, "encoding": {
        "x": {"field": "cati", "type": "quantitative", "axis": {"orient": "top", "labels": false, "ticks": false, "domain": false, "title": "NZ-IC-7", "titleX": 658, "titleY": 21, "titleAlign": "center", "titleBaseline": "middle", "titleAngle": 0}},
        "y": {"field": "depth", "type": "quantitative", "axis": null},
        "order": {"field": "depth", "type": "quantitative"}}}
    ]}
  ]
}
]
}
